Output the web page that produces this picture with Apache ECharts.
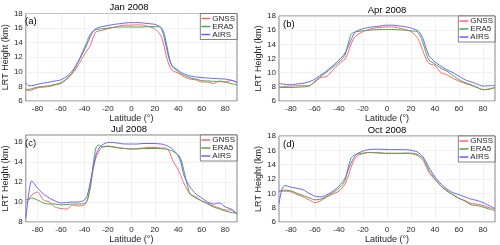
<!DOCTYPE html>
<html><head><meta charset="utf-8">
<script src="https://cdn.jsdelivr.net/npm/echarts@6/dist/echarts.min.js"></script>
<style>html,body{margin:0;padding:0;background:#fff}#c{width:500px;height:245px}</style>
</head><body><div id="c"></div>
<script>
const lat = [-90,-87.5,-85,-80,-75,-70,-65,-60,-55,-50,-45,-40,-37.5,-35,-32.5,-30,-27.5,-25,-20,-15,-10,-5,0,5,10,15,20,25,27.5,30,32.5,35,40,42.5,45,50,55,60,65,70,75,80,85,90];
const titles = ['Jan 2008','Apr 2008','Jul 2008','Oct 2008'];
const panelTags = ['(a)','(b)','(c)','(d)'];
const seriesNames = ['GNSS','ERA5','AIRS'];
const xTicks = [-80,-60,-40,-20,0,20,40,60,80];
const yRanges = [[6,18],[6,18],[8,16.7],[6,18]];
const yTicksA = [6,8,10,12,14,16,18];
const yTicksC = [8,10,12,14,16];

const janGNSS = [7.5,7.45,7.5,7.8,7.9,8.0,8.2,8.4,9.0,9.8,11.0,12.4,13.0,13.6,14.8,15.5,15.6,15.7,15.9,16.1,16.3,16.4,16.4,16.45,16.4,16.2,15.9,15.0,13.8,12.0,10.8,10.2,9.8,9.6,9.3,9.0,8.9,8.6,8.6,8.4,8.75,8.6,8.85,8.5];
const janERA5 = [7.6,7.6,7.7,7.9,8.0,8.1,8.3,8.5,9.1,10.0,11.5,13.3,14.3,15.2,15.6,15.8,15.85,15.9,16.0,16.1,16.15,16.15,16.15,16.15,16.15,16.2,16.2,16.1,15.5,13.8,11.8,10.7,10.0,9.7,9.5,9.2,9.0,8.8,8.75,8.7,8.65,8.6,8.4,8.2];
const janAIRS = [8.5,8.1,8.1,8.3,8.45,8.6,8.75,8.9,9.4,10.2,11.5,13.0,13.9,14.8,15.6,15.95,16.1,16.2,16.35,16.5,16.6,16.7,16.75,16.75,16.7,16.6,16.5,16.1,15.0,13.2,11.6,10.8,10.2,9.9,9.7,9.45,9.3,9.2,9.15,9.1,9.05,9.0,8.85,8.6];

const aprGNSS = [8.0,8.0,8.05,8.1,8.15,8.15,8.15,8.7,9.3,9.5,10.4,11.2,11.6,11.9,12.8,14.0,14.9,15.3,15.8,16.1,16.3,16.4,16.45,16.45,16.3,16.1,15.8,15.0,14.2,13.0,12.0,11.3,11.0,10.5,10.0,9.7,9.2,8.8,8.5,8.2,7.9,7.6,7.65,7.9];
const aprERA5 = [7.9,7.9,7.9,7.9,7.95,8.0,8.1,8.8,9.5,10.1,10.8,11.5,11.9,12.5,14.0,15.4,15.7,15.8,15.9,16.0,16.05,16.1,16.1,16.1,16.05,16.0,15.9,15.8,15.2,14.2,12.8,11.8,11.2,10.9,10.6,10.2,9.6,9.0,8.6,8.3,7.95,7.6,7.7,7.9];
const aprAIRS = [8.5,8.4,8.35,8.3,8.4,8.5,8.7,9.1,9.7,10.3,11.0,11.8,12.2,12.8,13.6,14.6,15.5,15.9,16.2,16.4,16.5,16.6,16.7,16.7,16.6,16.5,16.3,16.0,15.6,14.8,13.5,12.4,11.5,11.2,10.9,10.4,10.0,9.5,9.0,8.7,8.4,8.1,8.15,8.2];

const julGNSS = [9.9,10.2,10.7,11.0,10.2,10.0,9.5,9.35,9.3,9.7,9.6,9.7,10.2,11.5,13.3,14.5,15.1,15.5,15.6,15.5,15.4,15.35,15.3,15.35,15.4,15.45,15.45,15.4,15.4,15.35,15.0,14.2,13.2,12.5,11.8,10.8,10.5,10.1,9.9,9.6,9.4,9.2,9.2,8.8];
const julERA5 = [10.2,10.3,10.4,10.2,9.9,9.8,9.8,9.7,9.75,9.8,9.8,9.85,10.2,11.5,13.8,15.5,15.7,15.5,15.55,15.5,15.4,15.35,15.3,15.3,15.35,15.35,15.35,15.35,15.3,15.3,15.2,15.1,14.7,14.2,13.0,10.8,10.4,10.1,9.8,9.5,9.3,9.1,8.95,8.9];
const julAIRS = [8.4,10.8,12.1,11.4,10.8,10.4,10.1,9.9,9.95,10.0,10.0,10.2,10.7,12.0,13.5,14.8,15.4,15.7,15.95,15.95,15.85,15.8,15.8,15.8,15.85,15.85,15.85,15.8,15.75,15.65,15.5,15.3,14.6,13.8,12.6,11.5,10.8,10.4,10.0,9.8,9.9,9.5,9.3,8.8];

const octGNSS = [10.3,10.3,10.3,10.2,9.85,9.5,9.1,8.7,9.0,9.5,9.9,10.3,10.7,11.3,12.3,13.6,14.6,15.2,15.55,15.7,15.7,15.65,15.6,15.6,15.6,15.6,15.55,15.3,15.0,14.6,13.8,12.9,11.9,11.5,11.0,10.4,9.8,9.3,9.0,8.6,8.5,8.3,8.0,7.8];
const octERA5 = [10.3,10.4,10.45,10.35,10.0,9.7,9.4,9.1,9.2,9.6,10.1,10.7,11.1,11.8,13.5,14.9,15.3,15.5,15.6,15.7,15.65,15.6,15.55,15.55,15.55,15.6,15.6,15.45,15.2,14.9,14.1,13.2,12.0,11.5,11.0,10.3,9.8,9.3,8.9,8.4,8.3,8.1,7.8,7.6];
const octAIRS = [8.6,10.6,11.1,10.85,10.7,10.5,10.0,9.6,9.5,9.8,10.3,11.0,11.5,12.1,13.2,14.2,15.0,15.5,15.9,16.1,16.15,16.15,16.1,16.1,16.1,16.1,16.0,15.8,15.5,15.1,14.4,13.6,12.3,11.8,11.3,10.6,10.1,9.8,9.5,9.2,9.0,8.7,8.3,7.9];

const panels = [[janGNSS,janERA5,janAIRS],[aprGNSS,aprERA5,aprAIRS],[julGNSS,julERA5,julAIRS],[octGNSS,octERA5,octAIRS]];
const colors = ['#ff6464','#4ca64c','#6464ff'];

const gridPos = [
  {left:21,right:263,top:13.5,bottom:144},
  {left:279,right:5,top:16,bottom:144},
  {left:21,right:263,top:135,bottom:23},
  {left:279,right:5,top:136,bottom:23}
];
const FONT = 'Liberation Sans, Arial, sans-serif';
const txt = '#262626';

const option = {
  animation:false,
  textStyle:{fontFamily:FONT},
  grid: gridPos.map(g=>Object.assign({show:true,borderColor:'#333',borderWidth:0.6,backgroundColor:'#fff'},g)),
  title: gridPos.map((g,i)=>({
    text:titles[i], left: g.left + (500-g.left-g.right)/2, top: g.top-11, textAlign:'center', padding:0,
    textStyle:{fontSize:9.5,fontWeight:'normal',color:'#000',fontFamily:FONT}
  })),
  legend: gridPos.map((g,i)=>({
    orient:'vertical', right:g.right, top:g.top, itemGap:0, itemWidth:9, itemHeight:1.5, icon:'rect',
    padding:[1,2,1,1], backgroundColor:'#fff', borderColor:'#333', borderWidth:0.6,
    textStyle:{fontSize:8,color:txt,fontFamily:FONT,padding:[0,0,0,-3]},
    data:seriesNames
  })),
  xAxis: gridPos.map((g,i)=>({
    type:'value', gridIndex:i, min:-90, max:90,
    name:'Latitude (°)', nameLocation:'middle', nameGap:12,
    nameTextStyle:{fontSize:9,color:txt,fontFamily:FONT},
    axisLine:{show:false,onZero:false}, axisTick:{show:false, customValues:xTicks},
    axisLabel:{customValues:xTicks, fontSize:8, color:txt, margin:4, fontFamily:FONT},
    splitLine:{show:true, lineStyle:{color:'#e8e8e8',width:0.6}}
  })),
  yAxis: gridPos.map((g,i)=>({
    type:'value', gridIndex:i, min:yRanges[i][0], max:yRanges[i][1],
    name:'LRT Height (km)', nameLocation:'middle', nameGap:13,
    nameTextStyle:{fontSize:9,color:txt,fontFamily:FONT},
    axisLine:{show:false,onZero:false}, axisTick:{show:false, customValues: i===2?yTicksC:yTicksA},
    axisLabel:{customValues: i===2?yTicksC:yTicksA, fontSize:8, color:txt, margin:3, fontFamily:FONT},
    splitLine:{show:true, lineStyle:{color:'#e8e8e8',width:0.6}}
  })),
  graphic: gridPos.map((g,i)=>({
    type:'text', left:g.left+4, top:g.top+3,
    style:{text:panelTags[i], fontSize:9.5, fill:'#000', fontFamily:FONT}
  })),
  series: []
};
panels.forEach((p,i)=>{
  p.forEach((vals,k)=>{
    option.series.push({
      type:'line', name:seriesNames[k], xAxisIndex:i, yAxisIndex:i,
      data: lat.map((x,j)=>[x,vals[j]]), showSymbol:false, symbol:'none', smooth:0.25,
      lineStyle:{width:1,color:colors[k]}, itemStyle:{color:colors[k]}, z:2+k
    });
  });
});
const chart = echarts.init(document.getElementById('c'),null,{renderer:'canvas'});
chart.setOption(option);
</script></body></html>
